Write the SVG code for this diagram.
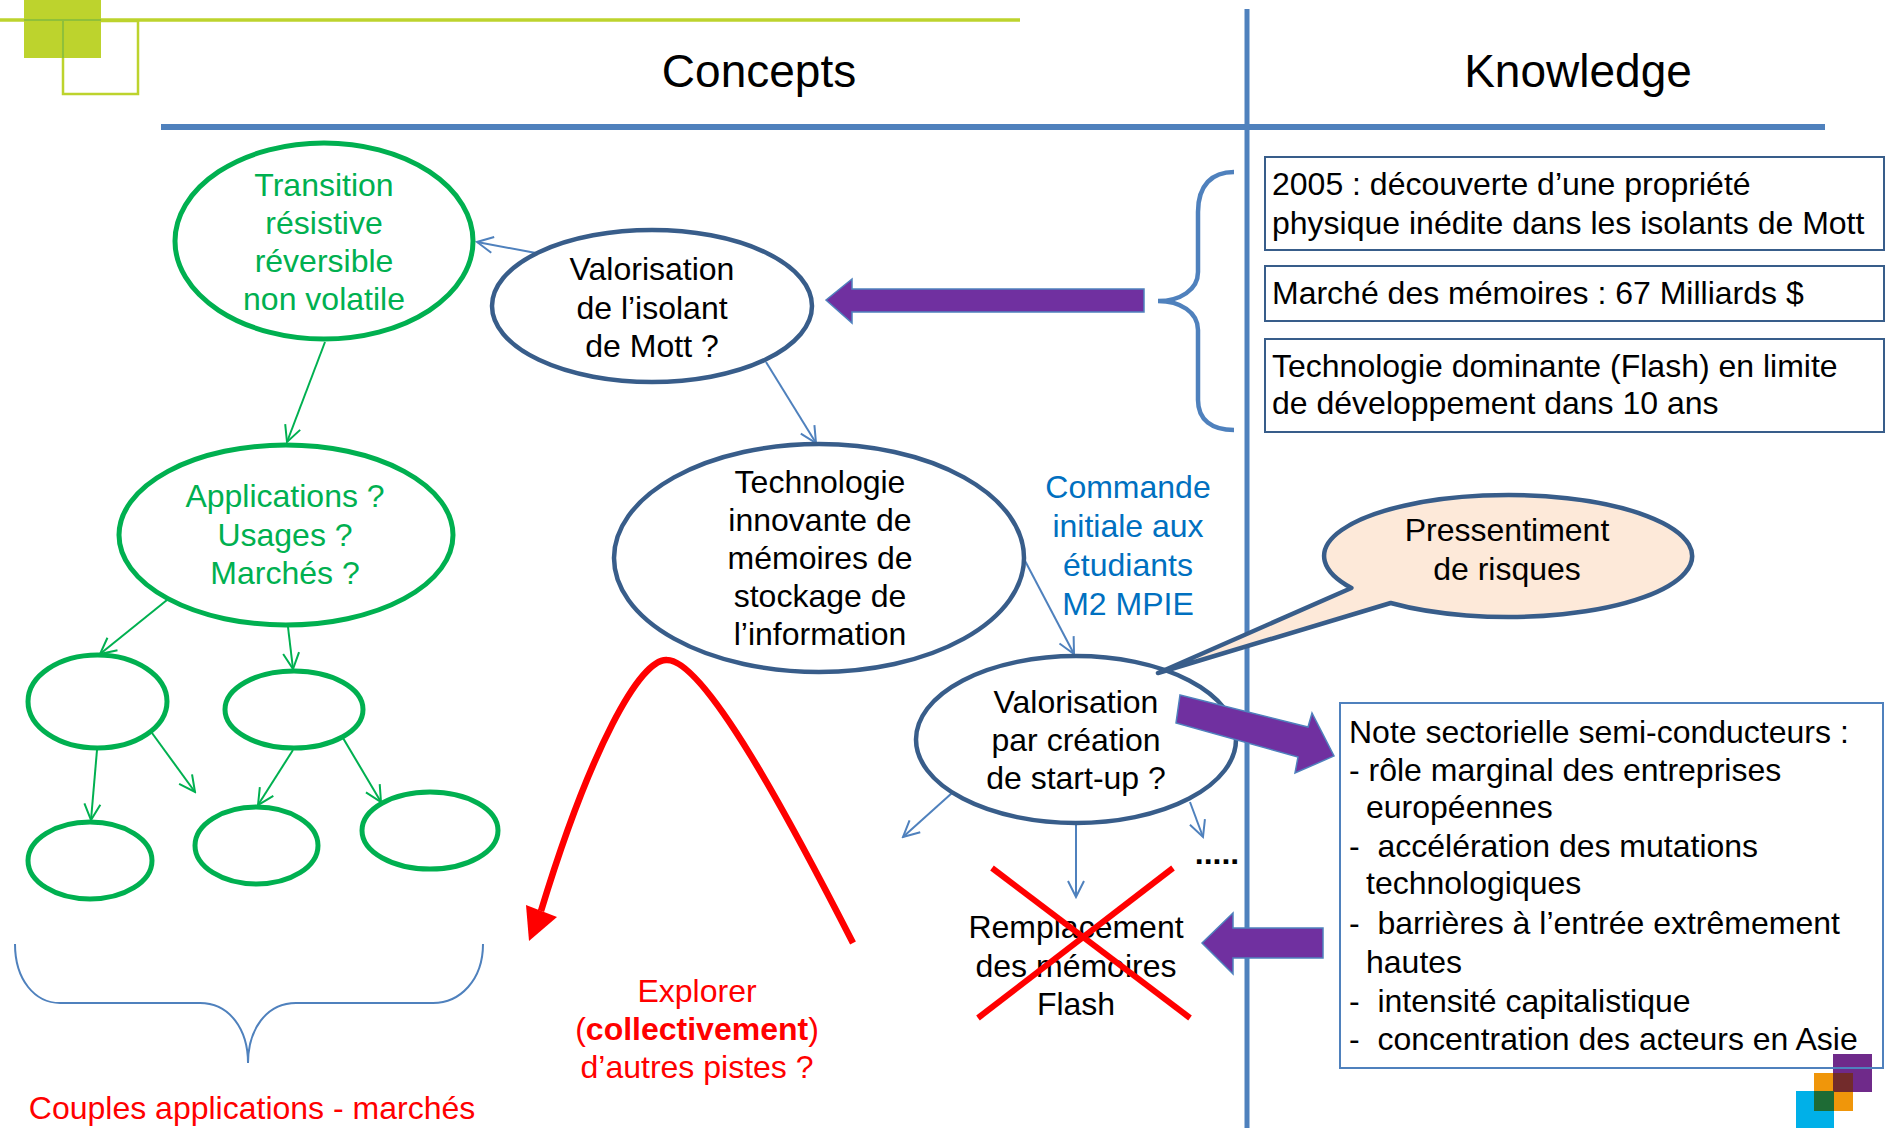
<svg xmlns="http://www.w3.org/2000/svg" width="1895" height="1128" viewBox="0 0 1895 1128">
<defs>
<style>
.t{font-family:"Liberation Sans",Arial,sans-serif;font-size:32px;text-anchor:middle;fill:#000}
.hdr{font-size:46px}
.g{fill:#00B050}
.c{fill:#0070C0}
.r{fill:#FF0000}
.l{text-anchor:start}
.ge{fill:#fff;stroke:#00B050;stroke-width:5}
.be{fill:#fff;stroke:#385D8A;stroke-width:4.5}
.box{fill:#fff;stroke:#385D8A;stroke-width:2}
.gc{fill:none;stroke:#00B050;stroke-width:2;marker-end:url(#ga)}
.bc{fill:none;stroke:#4F81BD;stroke-width:2;marker-end:url(#ba)}
.pa{fill:#7030A0;stroke:#4F81BD;stroke-width:1.5}
.brace{fill:none;stroke:#4F81BD}
</style>
<marker id="ga" viewBox="0 0 20 20" refX="18" refY="10" markerWidth="20" markerHeight="20" markerUnits="userSpaceOnUse" orient="auto">
<path d="M2,2 L18,10 L2,18" fill="none" stroke="#00B050" stroke-width="2"/>
</marker>
<marker id="ba" viewBox="0 0 20 20" refX="18" refY="10" markerWidth="20" markerHeight="20" markerUnits="userSpaceOnUse" orient="auto">
<path d="M2,2 L18,10 L2,18" fill="none" stroke="#4F81BD" stroke-width="2"/>
</marker>
</defs>
<rect width="1895" height="1128" fill="#fff"/>

<g id="decoration">
<rect x="24" y="0" width="77" height="58" fill="#BDD32D"/>
<line x1="0" y1="20" x2="1020" y2="20" stroke="#BDD32D" stroke-width="3.5"/>
<rect x="63" y="21" width="75" height="73" fill="none" stroke="#BDD32D" stroke-width="2.5"/>
<line x1="24" y1="20" x2="101" y2="20" stroke="#8FC03A" stroke-width="2"/>
<line x1="63" y1="21" x2="63" y2="58" stroke="#8FC03A" stroke-width="2"/>
<rect x="1833" y="1054" width="39" height="38" fill="#6F2A8A"/>
<rect x="1814" y="1073" width="39" height="38" fill="#F0960A"/>
<rect x="1796" y="1091" width="38" height="37" fill="#00B0E8"/>
<rect x="1833" y="1073" width="20" height="19" fill="#722B2B"/>
<rect x="1814" y="1091" width="20" height="20" fill="#1E6B35"/>
</g>

<g id="frame">
<line x1="161" y1="127" x2="1825" y2="127" stroke="#4F81BD" stroke-width="6"/>
<line x1="1247" y1="9" x2="1247" y2="1128" stroke="#4F81BD" stroke-width="5"/>
<text class="t hdr" x="759" y="87">Concepts</text>
<text class="t hdr" x="1578" y="87">Knowledge</text>
</g>

<g id="connectors">
<line class="bc" x1="536" y1="253" x2="477" y2="242"/>
<line class="gc" x1="325" y1="342" x2="287" y2="442"/>
<line class="bc" x1="766" y1="362" x2="816" y2="443"/>
<line class="gc" x1="167" y1="600" x2="100" y2="654"/>
<line class="gc" x1="288" y1="627" x2="293" y2="669"/>
<line class="gc" x1="97" y1="750" x2="91" y2="820"/>
<line class="gc" x1="152" y1="733" x2="195" y2="792"/>
<line class="gc" x1="293" y1="750" x2="258" y2="805"/>
<line class="gc" x1="343" y1="738" x2="381" y2="802"/>
<line class="bc" x1="1023" y1="557" x2="1074" y2="654"/>
<line class="bc" x1="952" y1="793" x2="903" y2="837"/>
<line class="bc" x1="1076" y1="823" x2="1076" y2="897"/>
<line class="bc" x1="1190" y1="802" x2="1203" y2="837"/>
<path d="M853,943 C790,820 705,660 667,660 C640,658 590,750 541,911" fill="none" stroke="#FF0000" stroke-width="6.5"/>
<polygon points="526,905 557,917 529,941" fill="#FF0000"/>
<path class="brace" stroke-width="4.5" d="M1234,172 C1212,172 1198,185 1198,212 L1198,272 C1198,290 1180,301 1158,301 C1180,301 1198,312 1198,330 L1198,400 C1198,420 1212,430 1234,430"/>
<path class="brace" stroke-width="2" d="M15,944 C15,980 35,1003 60,1003 L200,1003 C230,1003 248,1030 248,1063 C248,1030 266,1003 296,1003 L433,1003 C460,1003 483,980 483,944"/>
</g>

<g id="n-transition">
<ellipse class="ge" cx="324" cy="241" rx="149" ry="98"/>
<text class="t g" x="324" y="196">Transition</text>
<text class="t g" x="324" y="234">résistive</text>
<text class="t g" x="324" y="272">réversible</text>
<text class="t g" x="324" y="310">non volatile</text>
</g>

<g id="n-valorisation-mott">
<ellipse class="be" cx="652" cy="306" rx="160" ry="76"/>
<text class="t" x="652" y="280">Valorisation</text>
<text class="t" x="652" y="319">de l’isolant</text>
<text class="t" x="652" y="357">de Mott ?</text>
</g>

<g id="n-applications">
<ellipse class="ge" cx="286" cy="535" rx="167" ry="90"/>
<text class="t g" x="285" y="507">Applications ?</text>
<text class="t g" x="285" y="546">Usages ?</text>
<text class="t g" x="285" y="584">Marchés ?</text>
</g>

<g id="n-small">
<ellipse class="ge" cx="97.5" cy="701.5" rx="69.5" ry="46.5"/>
<ellipse class="ge" cx="294" cy="709.5" rx="69" ry="38.5"/>
<ellipse class="ge" cx="90" cy="860.5" rx="62" ry="38.5"/>
<ellipse class="ge" cx="256.5" cy="845.5" rx="61.5" ry="38.5"/>
<ellipse class="ge" cx="430" cy="830.5" rx="68" ry="38.5"/>
</g>

<g id="n-couples">
<text class="t r" x="252" y="1119">Couples applications - marchés</text>
</g>

<g id="n-technologie">
<ellipse class="be" cx="819" cy="558" rx="205" ry="114"/>
<text class="t" x="820" y="493">Technologie</text>
<text class="t" x="820" y="531">innovante de</text>
<text class="t" x="820" y="569">mémoires de</text>
<text class="t" x="820" y="607">stockage de</text>
<text class="t" x="820" y="645">l’information</text>
</g>

<g id="n-commande">
<text class="t c" x="1128" y="498">Commande</text>
<text class="t c" x="1128" y="537">initiale aux</text>
<text class="t c" x="1128" y="576">étudiants</text>
<text class="t c" x="1128" y="615">M2 MPIE</text>
</g>

<g id="n-explorer">
<text class="t r" x="697" y="1002">Explorer</text>
<text class="t r" x="697" y="1040">(<tspan font-weight="bold">collectivement</tspan>)</text>
<text class="t r" x="697" y="1078">d’autres pistes ?</text>
</g>

<g id="n-startup">
<ellipse class="be" cx="1076" cy="739.5" rx="160" ry="83.5"/>
<text class="t" x="1076" y="713">Valorisation</text>
<text class="t" x="1076" y="751">par création</text>
<text class="t" x="1076" y="789">de start-up ?</text>
<text class="t" x="1217" y="864" font-weight="bold">.....</text>
</g>

<g id="n-remplacement">
<text class="t" x="1076" y="938">Remplacement</text>
<text class="t" x="1076" y="977">des mémoires</text>
<text class="t" x="1076" y="1015">Flash</text>
<line x1="992" y1="868" x2="1190" y2="1018" stroke="#FF0000" stroke-width="6"/>
<line x1="1173" y1="868" x2="978" y2="1018" stroke="#FF0000" stroke-width="6"/>
</g>

<g id="n-pressentiment">
<path d="M1351.4,588 L1158,673 L1390.7,603 A184 61 0 1 0 1351.4,588 Z" fill="#FDE9D9" stroke="#385D8A" stroke-width="4.5" stroke-linejoin="round"/>
<text class="t" x="1507" y="541">Pressentiment</text>
<text class="t" x="1507" y="580">de risques</text>
</g>

<g id="n-k1">
<rect class="box" x="1265" y="157" width="619" height="93"/>
<text class="t l" x="1272" y="195">2005 : découverte d’une propriété</text>
<text class="t l" x="1272" y="234">physique inédite dans les isolants de Mott</text>
</g>
<g id="n-k2">
<rect class="box" x="1265" y="266" width="619" height="55"/>
<text class="t l" x="1272" y="304">Marché des mémoires : 67 Milliards $</text>
</g>
<g id="n-k3">
<rect class="box" x="1265" y="339" width="619" height="93"/>
<text class="t l" x="1272" y="377">Technologie dominante (Flash) en limite</text>
<text class="t l" x="1272" y="414">de développement dans 10 ans</text>
</g>

<g id="n-note">
<rect x="1340" y="703" width="543" height="365" fill="none" stroke="#4F81BD" stroke-width="2"/>
<text class="t l" x="1349" y="743" xml:space="preserve">Note sectorielle semi-conducteurs :</text>
<text class="t l" x="1349" y="781" xml:space="preserve">- rôle marginal des entreprises</text>
<text class="t l" x="1366" y="818">européennes</text>
<text class="t l" x="1349" y="857" xml:space="preserve">-  accélération des mutations</text>
<text class="t l" x="1366" y="894">technologiques</text>
<text class="t l" x="1349" y="934" xml:space="preserve">-  barrières à l’entrée extrêmement</text>
<text class="t l" x="1366" y="973">hautes</text>
<text class="t l" x="1349" y="1012" xml:space="preserve">-  intensité capitalistique</text>
<text class="t l" x="1349" y="1050" xml:space="preserve">-  concentration des acteurs en Asie</text>
</g>

<g id="arrows-purple">
<polygon class="pa" points="826,300 852,279 852,289 1144,289 1144,312 852,312 852,323"/>
<polygon class="pa" points="1180,695 1308,727 1312,713 1334,756 1295,773 1298,757 1176,723"/>
<polygon class="pa" points="1202,943 1233,913 1233,928 1323,928 1323,958 1233,958 1233,974"/>
</g>
</svg>
